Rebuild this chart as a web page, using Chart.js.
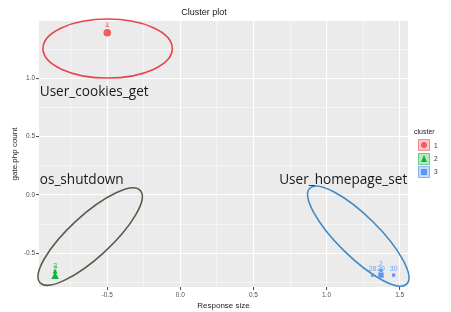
<!DOCTYPE html>
<html><head><meta charset="utf-8">
<script src="https://cdn.jsdelivr.net/npm/chart.js@4"></script>
<style>
html,body{margin:0;padding:0;background:#fff;}
#wrap{position:relative;width:451px;height:312px;overflow:hidden;}
canvas{display:block;}
#legend{position:absolute;left:413px;top:127px;font-family:'Liberation Sans',Arial,sans-serif;color:#222;}
#legend .ttl{font-size:7px;line-height:9px;margin-bottom:3px;margin-left:1px;}
#legend .row{display:flex;align-items:center;height:12.5px;margin-bottom:0.8px;}
#legend .key{width:12px;height:12px;box-sizing:border-box;display:flex;align-items:center;justify-content:center;margin-left:5px;}
#legend .lab{font-size:6.5px;margin-left:4px;color:#333;}
.sym-c{width:6px;height:6px;border-radius:50%;}
.sym-t{width:0;height:0;border-left:3.8px solid transparent;border-right:3.8px solid transparent;}
.sym-s{width:6px;height:6px;}
</style></head><body>
<div id="wrap"><canvas id="c" width="451" height="312"></canvas>
<div id="legend"></div></div>
<script>
// ---- data ----
const clusterNames = ['1', '2', '3'];
const cluster1X = [-0.5, -0.5];
const cluster1Y = [1.40, 1.39];
const cluster1Labels = ['1', '4'];
const cluster2X = [-0.857, -0.857];
const cluster2Y = [-0.66, -0.69];
const cluster2Labels = ['3', '2'];
const cluster3X = [1.315, 1.372, 1.459, 1.372];
const cluster3Y = [-0.686, -0.686, -0.686, -0.645];
const cluster3Labels = ['28', '29', '30', '2'];
const centerX = [-0.5, -0.857, 1.372];
const centerY = [1.39, -0.70, -0.686];
const xTickValues = [-0.75, -0.5, -0.25, 0, 0.25, 0.5, 0.75, 1.0, 1.25, 1.5];
const yTickValues = [-0.75, -0.5, -0.25, 0, 0.25, 0.5, 0.75, 1.0, 1.25];
const majorStep = 0.5;
const annotationNames = ['User_cookies_get', 'os_shutdown', 'User_homepage_set'];
const annotationX = [-0.962, -0.962, 1.552];
const annotationY = [0.885, 0.13, 0.13];
// ellipse major-axis endpoints (data units)
const ellipseFrom = [[-0.940, 1.255], [-0.960, -0.751], [0.885, 0.058]];
const ellipseTo   = [[-0.055, 1.255], [-0.274, 0.039], [1.549, -0.761]];

// ---- styles ----
const pointColors = ['#EE5F61', '#12B33C', '#5F96F4'];
const labelColors = ['rgba(238,95,97,0.75)', 'rgba(18,179,60,0.85)', 'rgba(95,150,244,0.85)'];
const ellipseColors = ['#E8444B', '#5C5C4C', '#3F8BC6'];
const ellipseMinorPx = [29.5, 21, 20.5];
const annotationAlign = ['left', 'left', 'right'];
const shapes = ['circle', 'triangle', 'rect'];

const isMajor = v => Math.abs(v / majorStep - Math.round(v / majorStep)) < 1e-6;
const fmt = v => (Math.abs(v) < 1e-9 ? 0 : v).toFixed(1);

const pts = (xs, ys) => xs.map((x, i) => ({x, y: ys[i]}));
const clusterPts = [pts(cluster1X, cluster1Y), pts(cluster2X, cluster2Y), pts(cluster3X, cluster3Y)];
const clusterLabels = [cluster1Labels, cluster2Labels, cluster3Labels];

const datasets = [];
clusterPts.forEach((d, i) => {
  datasets.push({label: clusterNames[i], data: d, pointStyle: shapes[i],
    backgroundColor: pointColors[i], borderColor: pointColors[i], borderWidth: 0,
    pointRadius: i === 1 ? 3 : 2.3});
});
centerX.forEach((x, i) => {
  datasets.push({label: 'center ' + clusterNames[i], data: [{x, y: centerY[i]}], pointStyle: shapes[i],
    backgroundColor: pointColors[i], borderColor: pointColors[i], borderWidth: 0,
    pointRadius: i === 1 ? 4.5 : 3.8});
});

const bgPlugin = {
  id: 'bg',
  beforeDraw(chart) {
    const {ctx, chartArea: a} = chart;
    ctx.save(); ctx.fillStyle = '#EBEBEB';
    ctx.fillRect(a.left, a.top, a.right - a.left, a.bottom - a.top);
    ctx.restore();
  },
  beforeDatasetsDraw(chart) {
    const {ctx} = chart; const xs = chart.scales.x, ys = chart.scales.y;
    ctx.save();
    ellipseFrom.forEach((f, i) => {
      const t = ellipseTo[i];
      const x1 = xs.getPixelForValue(f[0]), y1 = ys.getPixelForValue(f[1]);
      const x2 = xs.getPixelForValue(t[0]), y2 = ys.getPixelForValue(t[1]);
      const cx = (x1 + x2) / 2, cy = (y1 + y2) / 2;
      const a = Math.hypot(x2 - x1, y2 - y1) / 2, ang = Math.atan2(y2 - y1, x2 - x1);
      ctx.beginPath(); ctx.ellipse(cx, cy, a, ellipseMinorPx[i], ang, 0, Math.PI * 2);
      ctx.strokeStyle = ellipseColors[i]; ctx.lineWidth = 1.6; ctx.stroke();
    });
    ctx.restore();
  },
  afterDatasetsDraw(chart) {
    const {ctx} = chart; const xs = chart.scales.x, ys = chart.scales.y;
    ctx.save();
    ctx.font = '7px "Liberation Sans", Arial, sans-serif';
    ctx.textAlign = 'center'; ctx.textBaseline = 'alphabetic';
    clusterPts.forEach((d, i) => {
      ctx.fillStyle = labelColors[i];
      d.forEach((p, j) => {
        ctx.fillText(clusterLabels[i][j], xs.getPixelForValue(p.x), ys.getPixelForValue(p.y) - 4.5);
      });
    });
    ctx.font = '13.6px "Open Sans", "Noto Sans", sans-serif';
    ctx.textBaseline = 'middle'; ctx.fillStyle = '#1a1a1a';
    annotationNames.forEach((n, i) => {
      ctx.textAlign = annotationAlign[i];
      ctx.fillText(n, xs.getPixelForValue(annotationX[i]), ys.getPixelForValue(annotationY[i]));
    });
    ctx.restore();
  }
};

const tickFont = {family: '"Liberation Sans", Arial, sans-serif', size: 6.5};
new Chart(document.getElementById('c'), {
  type: 'scatter',
  data: {datasets},
  plugins: [bgPlugin],
  options: {
    responsive: false, animation: false, events: [],
    layout: {padding: {left: 0, right: 43, top: 0, bottom: 0}},
    plugins: {
      legend: {display: false}, tooltip: {enabled: false},
      title: {display: true, text: 'Cluster plot', color: '#222',
        font: {family: '"Liberation Sans", Arial, sans-serif', size: 9, weight: 'normal', lineHeight: 1.2},
        padding: {top: 7, bottom: 3.2}}
    },
    scales: {
      x: {type: 'linear', min: -0.967, max: 1.557,
        afterBuildTicks: s => { s.ticks = xTickValues.map(v => ({value: v})); },
        afterFit: s => { s.height = 25; },
        ticks: {font: tickFont, color: '#4D4D4D', padding: 1, maxRotation: 0, autoSkip: false,
          callback: v => isMajor(v) ? fmt(v) : ''},
        grid: {color: '#FFFFFF', lineWidth: c => isMajor(c.tick.value) ? 1.1 : 0.5,
          tickLength: 3, tickColor: c => isMajor(c.tick.value) ? '#555' : 'rgba(0,0,0,0)'},
        border: {display: false},
        title: {display: true, text: 'Response size', color: '#222',
          font: {family: '"Liberation Sans", Arial, sans-serif', size: 8, lineHeight: 1.2},
          padding: {top: 0, bottom: 1.2}}
      },
      y: {type: 'linear', min: -0.788, max: 1.491,
        afterBuildTicks: s => { s.ticks = yTickValues.map(v => ({value: v})); },
        afterFit: s => { s.width = 39; },
        ticks: {font: tickFont, color: '#4D4D4D', padding: 1, autoSkip: false,
          callback: v => isMajor(v) ? fmt(v) : ''},
        grid: {color: '#FFFFFF', lineWidth: c => isMajor(c.tick.value) ? 1.1 : 0.5,
          tickLength: 3, tickColor: c => isMajor(c.tick.value) ? '#555' : 'rgba(0,0,0,0)'},
        border: {display: false},
        title: {display: true, text: 'gate.php count', color: '#222',
          font: {family: '"Liberation Sans", Arial, sans-serif', size: 8, lineHeight: 1.2},
          padding: {top: 10.2, bottom: 0}}
      }
    }
  }
});

// legend (HTML)
const keyBg = ['rgba(238,95,97,0.35)', 'rgba(18,179,60,0.3)', 'rgba(95,150,244,0.35)'];
const keyBorder = ['rgba(238,95,97,0.55)', 'rgba(18,179,60,0.5)', 'rgba(95,150,244,0.55)'];
const leg = document.getElementById('legend');
let html = '<div class="ttl">cluster</div>';
clusterNames.forEach((n, i) => {
  let sym;
  if (shapes[i] === 'circle') sym = `<div class="sym-c" style="background:${pointColors[i]}"></div>`;
  else if (shapes[i] === 'triangle') sym = `<div class="sym-t" style="border-bottom:7px solid ${pointColors[i]}"></div>`;
  else sym = `<div class="sym-s" style="background:${pointColors[i]}"></div>`;
  html += `<div class="row"><div class="key" style="background:${keyBg[i]};border:1px solid ${keyBorder[i]}">${sym}</div><div class="lab">${n}</div></div>`;
});
leg.innerHTML = html;
</script>
</body></html>
